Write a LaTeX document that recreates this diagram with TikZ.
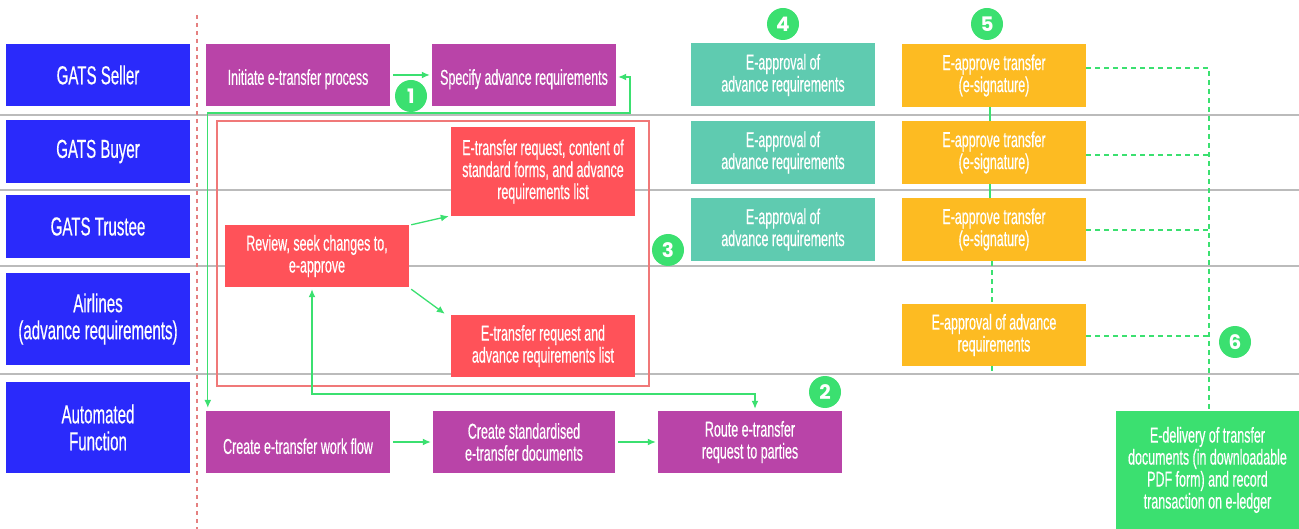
\documentclass[tikz,border=0pt]{standalone}
\usepackage{fontspec}
\setmainfont{Liberation Sans}[FakeStretch=0.58, FakeBold=0.4]
\newfontfamily\badgefont{Poppins}
\usetikzlibrary{arrows.meta}
\definecolor{laneblue}{HTML}{2A2AFB}
\definecolor{purp}{HTML}{B944A8}
\definecolor{redb}{HTML}{FF5259}
\definecolor{tealb}{HTML}{5FCBB0}
\definecolor{yell}{HTML}{FDBB22}
\definecolor{grn}{HTML}{3BE070}
\definecolor{gridg}{HTML}{BBBBBB}
\definecolor{pinkd}{HTML}{E58080}
\definecolor{contred}{HTML}{F07878}
\tikzset{
  box/.style={rectangle, inner sep=0pt, text=white, align=center,
    font=\fontsize{21.5}{22}\selectfont, minimum width=184pt, minimum height=62pt,
    execute at begin node={\rule{0pt}{24pt}}},
  lane/.style={rectangle, inner sep=0pt, text=white, align=center, minimum width=184pt,
    fill=laneblue, font=\fontsize{26}{27}\selectfont},
  pbox/.style={box, fill=purp},
  rbox/.style={box, fill=redb},
  tbox/.style={box, fill=tealb, minimum height=63pt},
  ybox/.style={box, fill=yell},
  gbox/.style={box, fill=grn},
  badge/.style={circle, fill=grn, minimum size=32pt, inner sep=0pt, text=white,
    font=\badgefont\bfseries\fontsize{20}{20}\selectfont},
  conn/.style={draw=grn, line width=1.3pt, -{Latex[length=8pt,width=7pt]}},
  conn2/.style={draw=grn, line width=1.3pt, {Latex[length=8pt,width=7pt]}-{Latex[length=8pt,width=7pt]}},
  solidlink/.style={draw=grn, line width=1.2pt},
  dashlink/.style={draw=grn, line width=1.2pt, dash pattern=on 5pt off 4pt},
}
\begin{document}
\begin{tikzpicture}[x=1pt, y=-1pt]
\useasboundingbox (0,0) rectangle (1299,529);
% grid lines
\foreach \yy in {115,190,266,374} \draw[gridg, line width=1.2pt] (0,\yy) -- (1299,\yy);
% pink dashed separator
\draw[pinkd, line width=1.2pt, dash pattern=on 4pt off 4pt] (197,15) -- (197,529);
% lanes
\node[lane, minimum height=62pt] (seller) at (98,75) {GATS Seller};
\node[lane, minimum height=63pt] (buyer) at (98,151.5) {GATS Buyer};
\node[lane, minimum height=63pt] (trustee) at (98,226.5) {GATS Trustee};
\node[lane, minimum height=92pt] (airl) at (98,319) {Airlines\\(advance requirements)};
\node[lane, minimum height=91pt] (auto) at (98,427.5) {Automated\\Function};
% container
\draw[contred, line width=1.2pt] (217,121) rectangle (649,386);
% purple
\node[pbox] (init) at (298,75) {Initiate e-transfer process};
\node[pbox] (spec) at (524,75) {Specify advance requirements};
\node[pbox] (cwf) at (298,442) {Create e-transfer work flow};
\node[pbox, minimum width=182pt] (csd) at (524,442) {Create standardised\\e-transfer documents};
\node[pbox] (route) at (750,442) {Route e-transfer\\request to parties};
% red
\node[rbox, minimum height=89pt] (rtop) at (543,171.5) {E-transfer request, content of\\standard forms, and advance\\requirements list};
\node[rbox] (review) at (317,256) {Review, seek changes to,\\e-approve};
\node[rbox] (rbot) at (543,346) {E-transfer request and\\advance requirements list};
% teal
\node[tbox] (t1) at (783,75) {E-approval of\\advance requirements};
\node[tbox] (t2) at (783,152.5) {E-approval of\\advance requirements};
\node[tbox] (t3) at (783,229.5) {E-approval of\\advance requirements};
% yellow
\node[ybox, minimum height=63pt] (y1) at (994,75.5) {E-approve transfer\\(e-signature)};
\node[ybox, minimum height=63pt] (y2) at (994,152.5) {E-approve transfer\\(e-signature)};
\node[ybox, minimum height=63pt] (y3) at (994,229.5) {E-approve transfer\\(e-signature)};
\node[ybox] (y4) at (994,335) {E-approval of advance\\requirements};
% green delivery
\node[gbox, minimum width=183pt, minimum height=118pt] (deliv) at (1207.5,470) {E-delivery of transfer\\documents (in downloadable\\PDF form) and record\\transaction on e-ledger};
% coordinates
\coordinate (loopc) at (630,113);
\coordinate (revc) at (312,394);
\coordinate (yend) at (992,374);
\coordinate (dv) at (1209,68);
% connectors
\draw[conn, shorten <=3pt, shorten >=2pt] (init) -- (spec);
\draw[conn2] ([xshift=2pt,yshift=-2pt]spec.east) -| (loopc) -| ([xshift=2pt,yshift=3pt]cwf.north west);
\draw[conn2] ([xshift=-5pt,yshift=-2pt]review.south) |- (revc) -| ([xshift=5pt,yshift=2pt]route.north);
\draw[conn] ([xshift=2pt]review.north east) -- ([xshift=-2pt]rtop.south west);
\draw[conn] ([xshift=2pt,yshift=-2pt]review.south east) -- ([xshift=-6pt,yshift=1pt]rbot.north west);
\draw[conn, shorten <=3pt, shorten >=2pt] (cwf) -- (csd);
\draw[conn, shorten <=3pt, shorten >=2pt] (csd) -- (route);
% yellow links
\draw[solidlink] ([xshift=-4pt]y1.south) -- ([xshift=-4pt]y2.north);
\draw[solidlink] ([xshift=-4pt]y2.south) -- ([xshift=-4pt]y3.north);
\draw[dashlink] ([xshift=-2pt]y3.south) -- ([xshift=-2pt]y4.north);
\draw[dashlink] ([xshift=-2pt]y4.south) -- (yend);
\draw[dashlink] ([yshift=7.5pt]y1.east) -- (dv) -- (deliv.north -| dv);
\draw[dashlink] ([yshift=-2.5pt]y2.east) -- ([yshift=-2.5pt]y2.east -| dv);
\draw[dashlink] ([yshift=-0.5pt]y3.east) -- ([yshift=-0.5pt]y3.east -| dv);
\draw[dashlink] ([yshift=-1pt]y4.east) -- ([yshift=-1pt]y4.east -| dv);
% badges
\node[badge] (b1) at (411,96) {1};
\node[badge] (b2) at (825,392) {2};
\node[badge] (b3) at (668,250) {3};
\node[badge] (b4) at (783,24) {4};
\node[badge] (b5) at (987,24) {5};
\node[badge] (b6) at (1235,342) {6};
\end{tikzpicture}
\end{document}
